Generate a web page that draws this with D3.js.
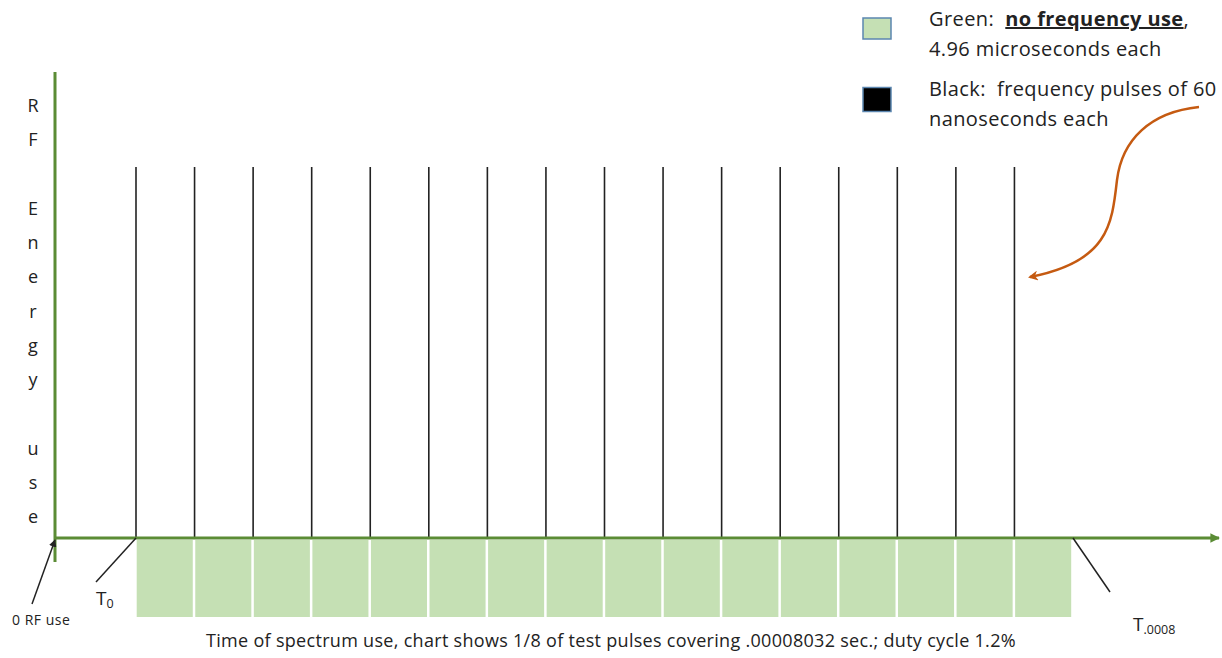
<!DOCTYPE html>
<html lang="en">
<head>
<script src="https://d3js.org/d3.v7.min.js"></script>
<style>
  body { margin: 0; background: #fff; }
  text { font-family: "Open Sans", "Noto Sans", sans-serif; fill: #222; }
  .axis { stroke: #5b8c35; stroke-width: 3px; fill: none; }
  .pulse { stroke: #222; stroke-width: 1.6px; }
  .cell { fill: #c5e0b4; }
  .pointer { stroke: #222; stroke-width: 1.5px; fill: none; }
</style>
</head>
<body>
<svg id="chart" width="1222" height="658"></svg>
<script>
// pulse start times, microseconds (60 ns pulse then 4.96 us of silence)
const pulseStarts = [0, 5.02, 10.04, 15.06, 20.08, 25.10, 30.12, 35.14,
                     40.16, 45.18, 50.20, 55.22, 60.24, 65.26, 70.28, 75.30];
const pulseWidth = 0.06;
const quietWidth = 4.96;
const totalTime = 80.32;
const pulseEnergy = 1;
const yLabel = ["R", "F", "", "E", "n", "e", "r", "g", "y", "", "u", "s", "e"];
const legendItems = [
  { color: "#c5e0b4", lines: [["Green:  ", "no frequency use", ","], ["4.96 microseconds each"]] },
  { color: "#000000", lines: [["Black:  frequency pulses of 60"], ["nanoseconds each"]] }
];
const caption = "Time of spectrum use, chart shows 1/8 of test pulses covering .00008032 sec.; duty cycle 1.2%";

const svg = d3.select("#chart");
const x = d3.scaleLinear().domain([0, totalTime]).range([136, 1073]);
const y = d3.scaleLinear().domain([0, pulseEnergy]).range([538, 167]);
const originX = 55;

const defs = svg.append("defs");
defs.append("marker").attr("id", "greenHead")
    .attr("viewBox", "0 0 10 10").attr("refX", 9).attr("refY", 5)
    .attr("markerWidth", 3.2).attr("markerHeight", 3.2)
    .attr("markerUnits", "strokeWidth").attr("orient", "auto")
  .append("path").attr("d", "M0,0L10,5L0,10Z").attr("fill", "#5b8c35");
defs.append("marker").attr("id", "blackHead")
    .attr("viewBox", "0 0 10 10").attr("refX", 9).attr("refY", 5)
    .attr("markerWidth", 5).attr("markerHeight", 5)
    .attr("markerUnits", "strokeWidth").attr("orient", "auto")
  .append("path").attr("d", "M0,0L10,5L0,10Z").attr("fill", "#222");
defs.append("marker").attr("id", "orangeHead")
    .attr("viewBox", "0 0 10 10").attr("refX", 8).attr("refY", 5)
    .attr("markerWidth", 4).attr("markerHeight", 4)
    .attr("markerUnits", "strokeWidth").attr("orient", "auto")
  .append("path").attr("d", "M0,0L10,5L0,10L3,5Z").attr("fill", "#c55a11");

// green "no use" cells under the axis
svg.selectAll("rect.cell").data(pulseStarts)
   .join("rect")
   .attr("class", "cell")
   .attr("x", d => x(d + pulseWidth))
   .attr("y", 540)
   .attr("width", d => x(d + pulseWidth + quietWidth) - x(d + pulseWidth) - 1.8)
   .attr("height", 77);

// pulses
svg.selectAll("line.pulse").data(pulseStarts)
   .join("line")
   .attr("class", "pulse")
   .attr("x1", d => x(d)).attr("x2", d => x(d))
   .attr("y1", y(pulseEnergy)).attr("y2", y(0));

// axes
svg.append("line").attr("class", "axis")
   .attr("x1", originX).attr("x2", originX)
   .attr("y1", 72).attr("y2", 562);
svg.append("line").attr("class", "axis")
   .attr("x1", originX).attr("x2", 1219)
   .attr("y1", y(0)).attr("y2", y(0))
   .attr("marker-end", "url(#greenHead)");

// y label, one letter per line
svg.append("g").selectAll("text").data(yLabel)
   .join("text")
   .attr("x", 33).attr("y", (d, i) => 112 + i * 34.25)
   .attr("text-anchor", "middle")
   .attr("font-size", 18)
   .text(d => d);

// pointers
svg.append("line").attr("class", "pointer")
   .attr("x1", 32).attr("y1", 604).attr("x2", originX).attr("y2", y(0) + 2)
   .attr("marker-end", "url(#blackHead)");
svg.append("line").attr("class", "pointer")
   .attr("x1", 96).attr("y1", 582).attr("x2", x(0)).attr("y2", y(0));
svg.append("line").attr("class", "pointer")
   .attr("x1", x(totalTime)).attr("y1", y(0)).attr("x2", 1110).attr("y2", 592);

svg.append("text").attr("x", 12).attr("y", 625).attr("font-size", 14)
   .attr("letter-spacing", 0.5).text("0 RF use");

const t0 = svg.append("text").attr("x", 96).attr("y", 605).attr("font-size", 19);
t0.append("tspan").text("T");
t0.append("tspan").attr("font-size", 12.5).attr("dy", 3).text("0");

const tEnd = svg.append("text").attr("x", 1133).attr("y", 631).attr("font-size", 19);
tEnd.append("tspan").text("T");
tEnd.append("tspan").attr("font-size", 12.5).attr("dy", 3).text(".0008");

svg.append("text").attr("x", 611).attr("y", 647)
   .attr("text-anchor", "middle").attr("font-size", 18)
   .attr("letter-spacing", 0.3)
   .text(caption);

// legend
const legend = svg.append("g").selectAll("g").data(legendItems)
   .join("g")
   .attr("transform", (d, i) => `translate(0, ${i * 70})`);
legend.append("rect")
   .attr("x", 863).attr("y", (d, i) => 18 + i * -0.5)
   .attr("width", 28).attr("height", (d, i) => i ? 24 : 21)
   .attr("fill", d => d.color)
   .attr("stroke", "#5b86b0").attr("stroke-width", 1.5);
legend.each(function(d) {
  const g = d3.select(this);
  d.lines.forEach((parts, li) => {
    const t = g.append("text").attr("x", 929).attr("y", 26 + li * 30)
      .attr("font-size", 20).attr("letter-spacing", 0.4);
    parts.forEach((p, pi) => {
      const s = t.append("tspan").text(p).attr("xml:space", "preserve");
      if (parts.length > 1 && pi === 1) {
        s.attr("font-weight", "bold").attr("text-decoration", "underline");
      }
    });
  });
});

// orange callout arrow
svg.append("path")
   .attr("d", "M1199,107 C1150,112 1122,140 1117,180 C1112,225 1108,262 1030,277")
   .attr("fill", "none").attr("stroke", "#c55a11").attr("stroke-width", 2.5)
   .attr("marker-end", "url(#orangeHead)");
</script>
</body>
</html>
